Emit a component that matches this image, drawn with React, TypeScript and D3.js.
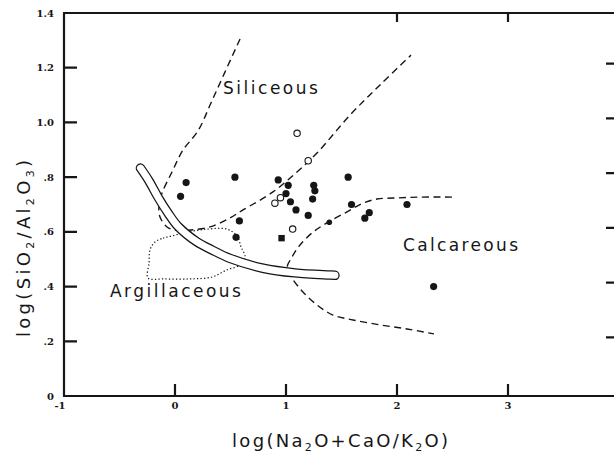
import React from "react";
import * as d3 from "d3";

type P = [number, number];

// ---- axis ticks ----
const xTickValues = [-1, 0, 1, 2, 3];
const xTickLabels = ["-1", "0", "1", "2", "3"];
const yTickValues = [0, 0.2, 0.4, 0.6, 0.8, 1.0, 1.2, 1.4];
const yTickLabels = ["0", ".2", ".4", ".6", ".8", "1.0", "1.2", "1.4"];
const topTickValues = [2, 3];
const rightTickValues = [0.2, 0.4, 0.6, 0.8, 1.0, 1.2];

// ---- samples ----
const solidPoints: P[] = [
  [0.10, 0.78], [0.05, 0.73], [0.54, 0.80], [0.93, 0.79], [1.02, 0.77],
  [1.00, 0.74], [1.04, 0.71], [1.09, 0.68], [1.20, 0.66], [1.25, 0.77],
  [1.26, 0.75], [1.24, 0.72], [1.56, 0.80], [0.58, 0.64], [0.55, 0.58],
  [1.59, 0.70], [1.75, 0.67], [1.71, 0.65], [2.09, 0.70], [2.33, 0.40],
];
const smallSolidPoints: P[] = [[1.39, 0.635]];
const openPoints: P[] = [
  [1.10, 0.96], [1.20, 0.86], [0.90, 0.705], [0.95, 0.725], [1.06, 0.61],
];
const squarePoints: P[] = [[0.96, 0.577]];

// ---- field boundaries ----
const siliceousBoundary: P[] = [
  [0.586, 1.305], [0.450, 1.184], [0.324, 1.071], [0.207, 0.969], [0.072, 0.899],
  [-0.027, 0.819], [-0.117, 0.742], [-0.144, 0.698], [-0.135, 0.654], [-0.072, 0.618],
  [0.0, 0.607], [0.144, 0.607], [0.315, 0.618], [0.495, 0.651], [0.613, 0.680],
  [0.883, 0.746], [1.099, 0.819], [1.279, 0.888], [1.577, 1.027], [1.847, 1.137],
  [2.126, 1.246],
];
const calcareousBoundary: P[] = [
  [2.495, 0.727], [2.207, 0.727], [2.000, 0.724], [1.820, 0.720], [1.694, 0.705],
  [1.550, 0.673], [1.369, 0.633], [1.243, 0.599], [1.126, 0.552], [1.054, 0.508],
  [1.009, 0.468], [1.054, 0.431], [1.153, 0.380], [1.279, 0.333], [1.423, 0.296],
  [1.604, 0.278], [1.847, 0.260], [2.090, 0.245], [2.333, 0.227],
];
const argillaceousField: P[] = [
  [-0.180, 0.563], [-0.108, 0.577], [-0.027, 0.585], [0.108, 0.599], [0.288, 0.610],
  [0.468, 0.610], [0.559, 0.585], [0.595, 0.545], [0.631, 0.508], [0.586, 0.479],
  [0.468, 0.461], [0.333, 0.435], [0.135, 0.428], [-0.108, 0.428], [-0.243, 0.431],
  [-0.234, 0.486], [-0.225, 0.534],
];
const trendBand: P[] = [
  [-0.311, 0.833], [-0.234, 0.786], [-0.149, 0.724], [-0.063, 0.669], [0.027, 0.620],
  [0.195, 0.564], [0.333, 0.534], [0.495, 0.503], [0.793, 0.467], [1.081, 0.450],
  [1.396, 0.442], [1.441, 0.441],
];

const regionNames = ["Siliceous", "Calcareous", "Argillaceous"];
const regionAnchors: P[] = [[0.432, 1.104], [2.054, 0.530], [-0.586, 0.362]];
const regionWidths = [95, 115, 131];

const W = 614;
const H = 454;
const ink = "#161616";

export default function App() {
  const x = d3.scaleLinear().domain([-1, 4]).range([64, 619]);
  const y = d3.scaleLinear().domain([0, 1.4]).range([396, 13]);
  const line = d3
    .line<P>()
    .x((d) => x(d[0]))
    .y((d) => y(d[1]))
    .curve(d3.curveCatmullRom.alpha(0.5));
  const closedLine = d3
    .line<P>()
    .x((d) => x(d[0]))
    .y((d) => y(d[1]))
    .curve(d3.curveCatmullRomClosed.alpha(0.5));

  const x0 = x(-1);
  const xEnd = 616;
  const yTop = y(1.4);
  const yBot = y(0);
  const sans = "'DejaVu Sans', sans-serif";
  const serif = "'DejaVu Serif', 'Liberation Serif', serif";

  // frame and ticks as one continuous path
  const framePath =
    `M${x0},${yTop}V${yBot}` +
    `M${x0 - 1},${yBot}H${xEnd}` +
    `M${x0 - 1},${yTop}H${xEnd}` +
    yTickValues.slice(1, -1).map((v) => `M${x0},${y(v)}h13`).join("") +
    xTickValues.slice(1).map((v) => `M${x(v)},${yBot}v-12`).join("") +
    topTickValues.map((v) => `M${x(v)},${yTop}v9`).join("") +
    rightTickValues.map((v) => `M606,${y(v) - 4}H616`).join("");

  return (
    <div style={{ position: "absolute", left: 0, top: 0, width: W, height: H, background: "#fff" }}>
      <svg width={W} height={H} viewBox={`0 0 ${W} ${H}`} style={{ display: "block" }}>
        <rect x={0} y={0} width={W} height={H} fill="#fff" />
        {/* frame with ticks */}
        <path d={framePath} stroke={ink} strokeWidth={2.2} fill="none" />
        {/* tick labels */}
        <g fontFamily={serif} fontWeight="bold" fontSize={10} fill={ink}>
          {yTickValues.map((v, i) => (
            <text key={"ylab" + v} x={54} y={y(v)} dy="0.35em" textAnchor="end">
              {yTickLabels[i]}
            </text>
          ))}
          {xTickValues.map((v, i) => (
            <text key={"xlab" + v} x={x(v) - (v === -1 ? 4 : 0)} y={409} textAnchor="middle">
              {xTickLabels[i]}
            </text>
          ))}
        </g>
        {/* axis titles */}
        <text
          x={232}
          y={447}
          fontFamily={sans}
          fontSize={18}
          fill={ink}
          textLength={216}
          lengthAdjust="spacing"
        >
          log(Na<tspan dy={4} fontSize={11}>2</tspan>
          <tspan dy={-4}>O+CaO/K</tspan>
          <tspan dy={4} fontSize={11}>2</tspan>
          <tspan dy={-4}>O)</tspan>
        </text>
        <text
          transform="translate(30,337) rotate(-90)"
          x={0}
          y={0}
          fontFamily={sans}
          fontSize={18}
          fill={ink}
          textLength={177}
          lengthAdjust="spacing"
        >
          log(SiO<tspan dy={4} fontSize={11}>2</tspan>
          <tspan dy={-4}>/Al</tspan>
          <tspan dy={4} fontSize={11}>2</tspan>
          <tspan dy={-4}>O</tspan>
          <tspan dy={4} fontSize={11}>3</tspan>
          <tspan dy={-4}>)</tspan>
        </text>
        {/* field boundaries */}
        <g fill="none" stroke={ink} strokeWidth={1.4}>
          <path d={line(siliceousBoundary) || ""} strokeDasharray="7 4.5" />
          <path d={line(calcareousBoundary) || ""} strokeDasharray="7 4.5" />
          <path d={closedLine(argillaceousField) || ""} strokeWidth={1.2} strokeDasharray="1.3 2.2" />
        </g>
        {/* trend band */}
        <g fill="none" strokeLinecap="round" strokeLinejoin="round">
          <path d={line(trendBand) || ""} stroke={ink} strokeWidth={9.5} />
          <path d={line(trendBand) || ""} stroke="#fff" strokeWidth={7} />
        </g>
        {/* region labels */}
        <g fontFamily={sans} fontSize={17} fill={ink}>
          {regionNames.map((n, i) => (
            <text
              key={n}
              x={x(regionAnchors[i][0])}
              y={y(regionAnchors[i][1])}
              textLength={regionWidths[i]}
              lengthAdjust="spacing"
            >
              {n}
            </text>
          ))}
        </g>
        {/* samples */}
        <g fill={ink}>
          {solidPoints.map((d, i) => (
            <circle key={"s" + i} cx={x(d[0])} cy={y(d[1])} r={3.6} />
          ))}
          {smallSolidPoints.map((d, i) => (
            <circle key={"ss" + i} cx={x(d[0])} cy={y(d[1])} r={2.8} />
          ))}
          {squarePoints.map((d, i) => (
            <rect key={"q" + i} x={x(d[0]) - 3.2} y={y(d[1]) - 3.2} width={6.4} height={6.4} />
          ))}
        </g>
        <g fill="#fff" stroke={ink} strokeWidth={1.1}>
          {openPoints.map((d, i) => (
            <circle key={"o" + i} cx={x(d[0])} cy={y(d[1])} r={3.2} />
          ))}
        </g>
      </svg>
    </div>
  );
}
